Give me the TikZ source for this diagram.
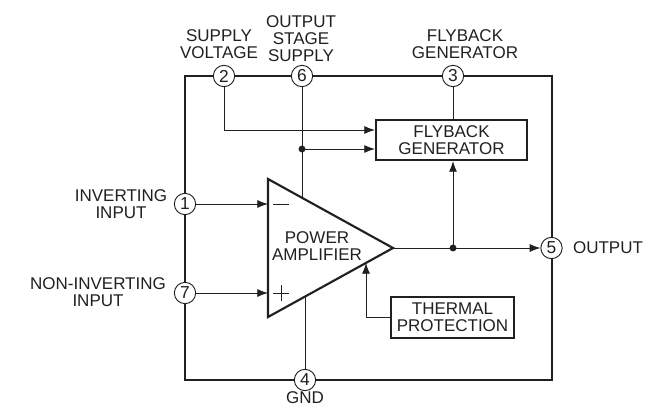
\documentclass[tikz,border=0pt]{standalone}
\usepackage{fontspec}
\setmainfont{Liberation Sans}
\usetikzlibrary{arrows.meta,calc}
\definecolor{ink}{HTML}{231F20}
\tikzset{
  thick line/.style={draw=ink,line width=1.6pt},
  wire/.style={draw=ink,line width=0.6pt},
  arrowwire/.style={wire,-{Latex[length=8pt,width=6pt]}},
  pinnode/.style={circle,draw=ink,line width=0.7pt,fill=white,minimum size=16pt,inner sep=0pt,text=ink,font=\fontsize{13}{13}\selectfont},
  label text/.style={align=center,text=ink,inner sep=0pt,font=\fontsize{12.75}{12.75}\selectfont},
  blockbox/.style={rectangle,draw=ink,line width=1.6pt,fill=white,align=center,inner sep=0pt,text=ink,font=\fontsize{12.75}{12.75}\selectfont},
  junction/.style={circle,fill=ink,inner sep=0pt,minimum size=5.2pt}
}
\begin{document}
\begin{tikzpicture}[x=0.75pt,y=-0.75pt]
\useasboundingbox (0,0) rectangle (667,407);
% outer package
\coordinate (tl) at (185,76);
\coordinate (br) at (552,380);
\draw[thick line] (tl) rectangle (br);
% amplifier vertices
\coordinate (ampA) at (268,179);
\coordinate (ampB) at (268,317);
\coordinate (ampC) at (393,248);
% blocks
\node[blockbox,minimum width=113.25pt,minimum height=30pt] (fly) at (451.5,140) {FLYBACK\\GENERATOR};
\node[blockbox,minimum width=92.25pt,minimum height=30.75pt] (therm) at (452.5,317.5) {THERMAL\\PROTECTION};
% pins
\node[pinnode] (p2) at (224,76) {2};
\node[pinnode] (p6) at (302,76) {6};
\node[pinnode] (p3) at (453,76) {3};
\node[pinnode] (p1) at (185,204) {1};
\node[pinnode] (p7) at (185,293) {7};
\node[pinnode] (p4) at (305,380) {4};
\node[pinnode] (p5) at (551.5,248) {5};
% junctions and wire ends
\node[junction] (j6) at (302,149) {};
\node[junction] (jout) at (453,248) {};
\coordinate (a6) at (302,198);
\coordinate (a4) at (305,296);
\coordinate (athermal) at (366,263);
\coordinate (in1) at (268,204);
\coordinate (in7) at (268,293);
% wires
\draw[arrowwire] (p2.south) |- (224,130) -- (fly.west |- 224,130);
\draw[wire] (p6) -- (a6);
\draw[arrowwire] (j6.center) -- (fly.west |- j6);
\draw[wire] (p3) -- (fly.north -| p3);
\draw[arrowwire] (p1) -- (in1);
\draw[arrowwire] (p7) -- (in7);
\draw[wire] (p4) -- (a4);
\draw[arrowwire] (ampC) -- (p5);
\draw[arrowwire] (jout.center) -- (fly.south -| jout);
\draw[arrowwire] (therm.west) -| (athermal);
% amplifier
\draw[thick line,line join=miter] (ampA) -- (ampB) -- (ampC) -- cycle;
\node[label text] (amp) at (317,246.5) {POWER\\AMPLIFIER};
% signs
\draw[wire] (273,204) -- (289,204);
\draw[wire] (273,293) -- (289,293) (281,285) -- (281,301);
% labels
\node[label text] (l2) at (219,44.5) {SUPPLY\\VOLTAGE};
\node[label text] (l6) at (301,38.5) {OUTPUT\\STAGE\\SUPPLY};
\node[label text] (l3) at (465,44) {FLYBACK\\GENERATOR};
\node[label text] (l1) at (121,204) {INVERTING\\INPUT};
\node[label text] (l7) at (98,292.5) {NON-INVERTING\\INPUT};
\node[label text] (l4) at (305,398) {GND};
\node[label text] (l5) at (608,248) {OUTPUT};
\end{tikzpicture}
\end{document}
